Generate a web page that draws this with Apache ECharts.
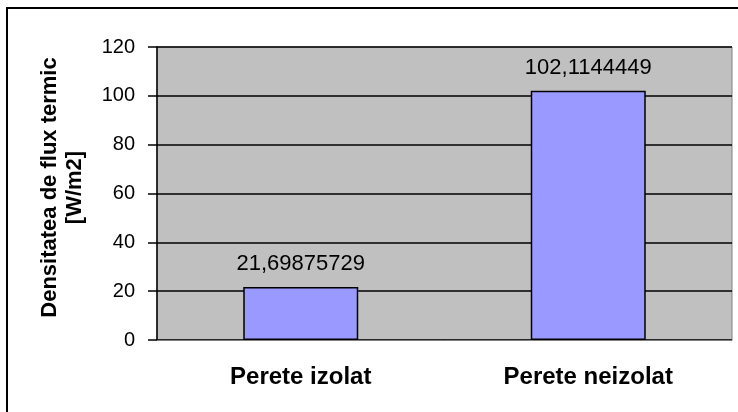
<!DOCTYPE html>
<html>
<head>
<meta charset="utf-8">
<script src="https://cdn.jsdelivr.net/npm/echarts@6/dist/echarts.min.js"></script>
<style>
  html, body { margin: 0; padding: 0; background: #fff; }
  #chart { width: 738px; height: 412px; }
</style>
</head>
<body>
<div id="chart"></div>
<script>
const categories = ["Perete izolat", "Perete neizolat"];
const fluxValues = [21.69875729, 102.1144449];
const yTicks = [0, 20, 40, 60, 80, 100, 120];
const yTitle = "Densitatea de flux termic\n[W/m2]";

const chart = echarts.init(document.getElementById("chart"));

chart.setOption({
  animation: false,
  textStyle: { fontFamily: "Liberation Sans, Arial, sans-serif" },
  graphic: [
    {
      type: "rect",
      shape: { x: 7, y: 8, width: 780, height: 460 },
      style: { fill: "none", stroke: "#000", lineWidth: 2 },
      silent: true,
    },
  ],
  grid: {
    left: 157,
    top: 47,
    right: 6,
    bottom: 72,
    show: true,
    backgroundColor: "#c0c0c0",
    borderColor: "#808080",
    borderWidth: 1,
  },
  xAxis: {
    type: "category",
    data: categories,
    axisLine: { lineStyle: { color: "#808080", width: 1 } },
    axisTick: { show: false },
    axisLabel: {
      color: "#000",
      fontSize: 24,
      fontWeight: "bold",
      margin: 25,
    },
  },
  yAxis: {
    type: "value",
    min: yTicks[0],
    max: yTicks[yTicks.length - 1],
    interval: yTicks[1] - yTicks[0],
    name: yTitle,
    nameLocation: "middle",
    nameGap: 70,
    nameRotate: 90,
    nameTextStyle: {
      color: "#000",
      fontSize: 22,
      fontWeight: "bold",
      lineHeight: 25,
      padding: [0, 0, 0, 12],
    },
    axisLine: { show: true, lineStyle: { color: "#000", width: 1.5 } },
    axisTick: { show: true, length: 9, lineStyle: { color: "#000", width: 1.5 } },
    axisLabel: { color: "#000", fontSize: 20, margin: 22 },
    splitLine: { lineStyle: { color: "#000", width: 1.5 } },
  },
  series: [
    {
      type: "bar",
      data: fluxValues,
      barWidth: "40%",
      itemStyle: { color: "#9999ff", borderColor: "#000", borderWidth: 1.5 },
      label: {
        show: true,
        position: "top",
        distance: 12,
        color: "#000",
        fontSize: 22,
        formatter: (p) => String(p.value).replace(".", ","),
      },
    },
  ],
});

window.addEventListener("resize", () => chart.resize());
</script>
</body>
</html>
